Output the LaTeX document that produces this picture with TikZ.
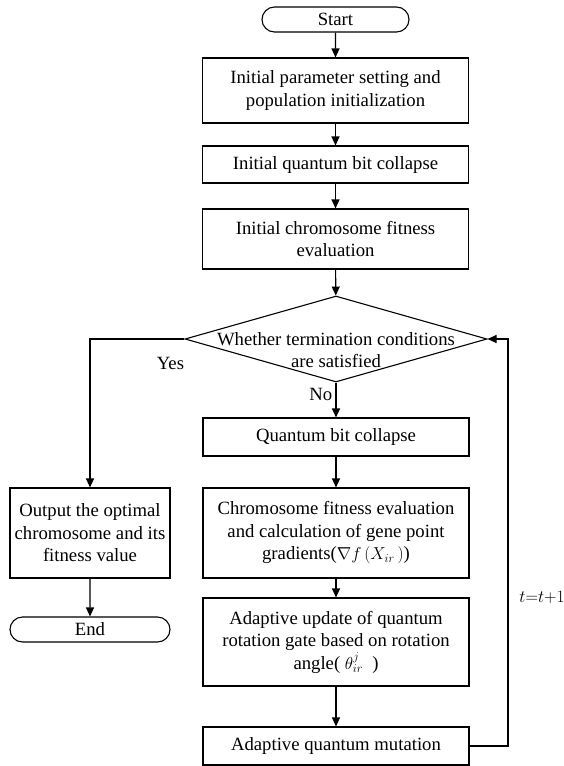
\documentclass[tikz,border=0pt]{standalone}
\usepackage{fontspec}
\setmainfont{Liberation Serif}
\usetikzlibrary{shapes.geometric,shapes.misc,arrows.meta}

\begin{document}
\begin{tikzpicture}[
        x=1pt, y=-1pt,
        font=\fontsize{18.7}{22.5}\selectfont,
        line width=1.1pt,
        >={Triangle[length=9pt,width=8pt]},
        terminal/.style={rounded rectangle, draw, minimum height=25pt, inner sep=0pt},
        process/.style={rectangle, draw, minimum width=266pt, inner sep=0pt, align=center},
        decision/.style={diamond, draw, minimum width=302pt, minimum height=86pt, inner sep=0pt}
    ]
    \useasboundingbox (0,0) rectangle (563,766);

    \node[terminal, minimum width=147pt] (start) at (335.5, 19.5) {Start};
    \node[process, minimum height=65pt] (init) at (335.5, 90.5) {Initial parameter setting and\\population initialization};
    \node[process, minimum height=37pt] (qinit) at (335.5, 164.5) {Initial quantum bit collapse};
    \node[process, minimum height=60pt] (fitinit) at (335.5, 239) {Initial chromosome fitness\\evaluation};
    \node[decision] (cond) at (336, 339) {};
    \node[align=center, inner sep=0pt] (condtext) at (336, 350) {Whether termination conditions\\are satisfied};
    \node[process, minimum height=38pt] (qbit) at (336, 437) {Quantum bit collapse};
    \node[process, minimum height=90pt] (fit) at (336, 533) {Chromosome fitness evaluation\\and calculation of gene point\\gradients($\nabla f\,(X_{ir}\,)$)};
    \node[process, minimum height=88pt] (update) at (336, 642) {Adaptive update of quantum\\rotation gate based on rotation\\angle( $\theta_{ir}^{j}$\ \ )};
    \node[process, minimum height=38pt] (mutation) at (336, 746) {Adaptive quantum mutation};
    \node[process, minimum width=160pt, minimum height=90pt] (output) at (90, 533) {Output the optimal\\chromosome and its\\fitness value};
    \node[terminal, minimum width=160pt] (end) at (90, 629.5) {End};
    \coordinate (loop) at (508, 746);

    \draw[->] (start) -- (init);
    \draw[->] (init) -- (qinit);
    \draw[->] (qinit) -- (fitinit);
    \draw[->] (fitinit) -- (cond);
    \draw[->] (cond) -- node[left, pos=0.35] {No} (qbit);
    \draw[->] (qbit) -- (fit);
    \draw[->] (fit) -- (update);
    \draw[->] (update) -- (mutation);
    \draw[->] (cond.west) -| node[pos=0.074, yshift=-24pt] {Yes} (output);
    \draw[->] (output) -- (end);
    \draw[->] (mutation) -- (loop) |- node[pos=0.183, xshift=34pt] {$t{=}t{+}1$} (cond.east);
\end{tikzpicture}
\end{document}
